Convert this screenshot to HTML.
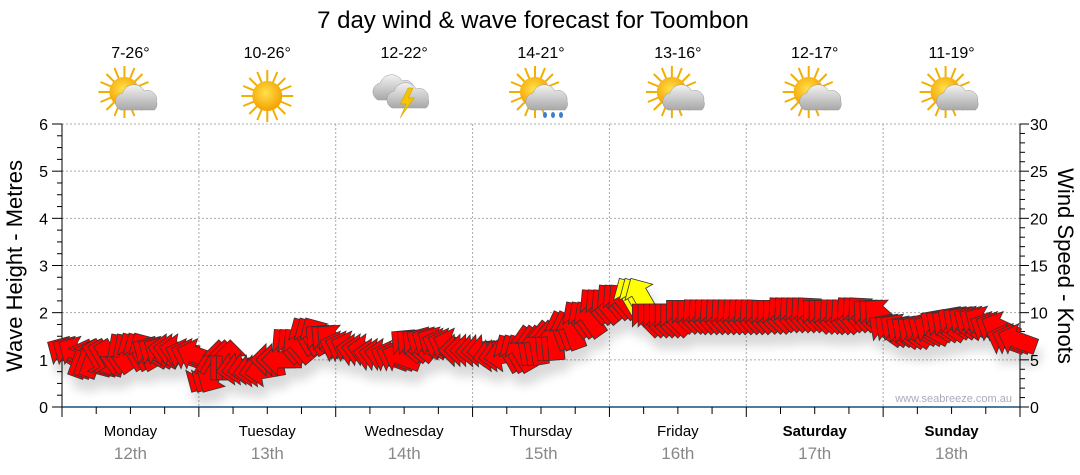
<!DOCTYPE html>
<html><head><meta charset="utf-8"><style>
html,body{margin:0;padding:0;background:#fff;}
svg{display:block;font-family:"Liberation Sans",sans-serif;}
</style></head><body>
<svg id="chart" width="1080" height="475" viewBox="0 0 1080 475">
<defs>
<radialGradient id="sunG" cx="45%" cy="40%" r="60%"><stop offset="0" stop-color="#ffe14a"/><stop offset="1" stop-color="#f5a000"/></radialGradient>
<linearGradient id="cloudG" x1="0" y1="0" x2="0" y2="1"><stop offset="0" stop-color="#f2f2f2"/><stop offset="1" stop-color="#a8a8a8"/></linearGradient>
<filter id="shadow" x="-20%" y="-20%" width="140%" height="180%"><feGaussianBlur in="SourceAlpha" stdDeviation="5"/><feOffset dx="4" dy="12"/><feComponentTransfer><feFuncA type="linear" slope="0.15"/></feComponentTransfer><feMerge><feMergeNode/><feMergeNode in="SourceGraphic"/></feMerge></filter>
<g id="sun"><g stroke="#f0b000" stroke-width="2"><line x1="-26" y1="0" x2="26" y2="0"/><line x1="0" y1="-26" x2="0" y2="26"/><line x1="-18" y1="-18" x2="18" y2="18"/><line x1="-18" y1="18" x2="18" y2="-18"/><line x1="-24" y1="-10" x2="24" y2="10"/><line x1="-24" y1="10" x2="24" y2="-10"/><line x1="-10" y1="-24" x2="10" y2="24"/><line x1="10" y1="-24" x2="-10" y2="24"/></g><circle r="15" fill="url(#sunG)"/></g>
<g id="cloud"><path d="M-18,10 a9,9 0 0 1 2,-17 a12,12 0 0 1 22,-2 a9,9 0 0 1 12,10 a8,8 0 0 1 -2,9 z" fill="url(#cloudG)" stroke="#999" stroke-width="0.5"/></g>
</defs>
<text x="533" y="28" text-anchor="middle" font-size="24" fill="#000">7 day wind &amp; wave forecast for Toombon</text>
<g id="days"></g>
<g id="grid"></g>
<g id="axes"></g>
<g id="arrows" filter="url(#shadow)"></g>
<text x="1012" y="402" text-anchor="end" font-size="11" fill="#aab">www.seabreeze.com.au</text>
<text transform="translate(22,266) rotate(-90)" text-anchor="middle" font-size="22" fill="#000">Wave Height - Metres</text>
<text transform="translate(1058,266) rotate(90)" text-anchor="middle" font-size="22" fill="#000">Wind Speed - Knots</text>
</svg>
<script>
const dayNames=["Monday","Tuesday","Wednesday","Thursday","Friday","Saturday","Sunday"];
const dayDates=["12th","13th","14th","15th","16th","17th","18th"];
const temps=["7-26°","10-26°","12-22°","14-21°","13-16°","12-17°","11-19°"];
const icons=["suncloud","sun","storm","sunrain","suncloud","suncloud","suncloud"];
const waveTicks=[0,1,2,3,4,5,6];
const windTicks=[0,5,10,15,20,25,30];
const windSpeed=[5.8,5.2,5.0,5.5,6.0,5.8,6.0,5.5, 3.4,5.0,4.1,3.9,5.0,6.6,7.6,7.1, 6.3,6.0,5.5,5.3,6.6,6.8,6.6,6.0, 6.0,5.5,5.8,6.6,7.1,8.2,9.4,10.8, 11.3,11.8,9.4,9.4,9.8,9.8,9.8,9.8, 9.8,9.8,10.0,10.0,9.8,9.8,10.0,9.8, 8.2,8.0,8.2,8.7,9.0,9.0,8.4,7.1];
const windFrom=[120,200,330,10,150,120,100,110, 30,180,80,80,90,140,150,130, 110,100,100,110,130,120,110,90, 85,80,150,170,175,160,145,140, 140,150,135,135,135,138,138,138, 138,135,138,138,135,138,138,132, 125,125,120,125,125,120,115,110];
const X0=62,X1=1020,Y0=407,Y1=124;
const NS="http://www.w3.org/2000/svg";
function mk(t,a,p){const e=document.createElementNS(NS,t);for(const k in a)e.setAttribute(k,a[k]);p.appendChild(e);return e;}
const dayW=(X1-X0)/dayNames.length;
function xHour(h){return X0+h/(24*dayNames.length)*(X1-X0);}
function yWave(m){return Y0-m/6*(Y0-Y1);}
function yWind(k){return Y0-k/30*(Y0-Y1);}
const grid=document.getElementById('grid'),axes=document.getElementById('axes'),days=document.getElementById('days'),arr=document.getElementById('arrows');
waveTicks.forEach(m=>{if(m>0){const l=mk('line',{x1:X0,x2:X1,y1:yWave(m),y2:yWave(m),stroke:'#aaa','stroke-dasharray':'2,2'},grid);

}
const t=mk('text',{x:48,y:yWave(m)+6,'text-anchor':'end','font-size':16,fill:'#000'},axes);t.textContent=m;

});
for(let q=0;q<=24;q++){const y=yWave(q/4);mk('line',{x1:q%4?X0-5:X0-10,x2:X0,y1:y,y2:y,stroke:'#000'},axes);}
windTicks.forEach(k=>{const t=mk('text',{x:1030,y:yWind(k)+6,'font-size':16,fill:'#000'},axes);t.textContent=k;

});
for(let k=0;k<=30;k++){const y=yWind(k);mk('line',{x1:X1,x2:k%5?X1+5:X1+9,y1:y,y2:y,stroke:'#000'},axes);}
mk('line',{x1:X0,x2:X0,y1:Y1,y2:Y0+5,stroke:'#000'},axes);
mk('line',{x1:X1,x2:X1,y1:Y1,y2:Y0,stroke:'#000'},axes);
mk('line',{x1:X0,x2:X1,y1:Y0,y2:Y0,stroke:'#1a4f7a','stroke-width':1.5},axes);
for(let h=0;h<=168;h+=6){const x=xHour(h);mk('line',{x1:x,x2:x,y1:Y0,y2:h%24?Y0+7:Y0+10,stroke:'#000'},axes);}
function icon(kind,cx,cy,g){
 if(kind==='sun'){mk('use',{href:'#sun',x:cx,y:cy},g);}
 else if(kind==='suncloud'||kind==='sunrain'){mk('use',{href:'#sun',x:cx-6,y:cy-4},g);mk('use',{href:'#cloud',x:cx+8,y:cy+4},g);
  if(kind==='sunrain'){[-4,4,12].forEach(d=>mk('ellipse',{cx:cx+8+d,cy:cy+19,rx:2,ry:3,fill:'#3a7fd0'},g));}}
 else{mk('use',{href:'#cloud',x:cx-8,y:cy-6},g);mk('use',{href:'#cloud',x:cx+6,y:cy+2},g);
  mk('polygon',{points:`${cx+4},${cy-8} ${cx-4},${cy+8} ${cx+2},${cy+8} ${cx-4},${cy+22} ${cx+10},${cy+2} ${cx+4},${cy+2} ${cx+9},${cy-8}`,fill:'#f5c400',stroke:'#c99a00','stroke-width':0.5},g);}
}
dayNames.forEach((d,i)=>{const cx=X0+dayW*(i+0.5);
 if(i>0){const l=mk('line',{x1:X0+dayW*i,x2:X0+dayW*i,y1:Y1,y2:Y0,stroke:'#aaa','stroke-dasharray':'2,2'},grid);
 
 }
 const g=mk('g',{},days);
 
 
 const t=mk('text',{x:cx,y:58,'text-anchor':'middle','font-size':16,fill:'#000'},g);t.textContent=temps[i];
 
 
 const ig=mk('g',{},g);
 
 
 icon(icons[i],cx,96,ig);
 const dn=mk('text',{x:cx,y:436,'text-anchor':'middle','font-size':15,fill:'#000','font-weight':i>=5?'bold':'normal'},g);dn.textContent=d;
 
 
 const dt=mk('text',{x:cx,y:459,'text-anchor':'middle','font-size':17,fill:'#888'},g);dt.textContent=dayDates[i];
 
 
});
const step=168/windSpeed.length;
const copies=3;
windSpeed.forEach((s,i)=>{
 const y=yWind(s);
 const rot=(windFrom[i]+180)-90;
 for(let c=0;c<copies;c++){
  const x=xHour((i+(c+0.5)/copies)*step);
  const p=mk('polygon',{points:'-20,-8 4,-8 4,-16 20,0 4,16 4,8 -20,8',transform:`translate(${x.toFixed(1)},${y.toFixed(1)}) rotate(${rot})`,fill:s>=11.5?'#ffff00':'#ff0000',stroke:'#333','stroke-width':0.8},arr);
  
  
 }
});
</script>
</body></html>
